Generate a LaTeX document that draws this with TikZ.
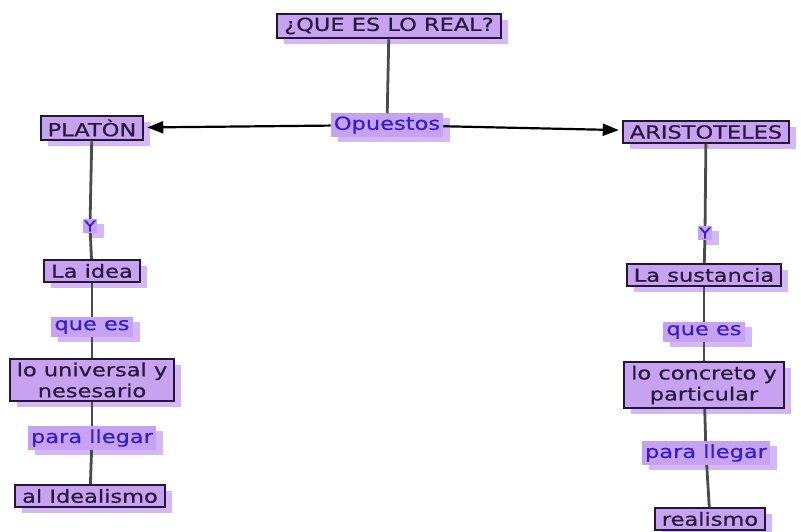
\documentclass[tikz,border=0pt]{standalone}
\usepackage{fontspec}
\setmainfont[FakeStretch=1.25,FakeBold=0.7]{DejaVu Sans}
\usetikzlibrary{shadows,arrows.meta}
\definecolor{boxfill}{RGB}{198,162,240}
\definecolor{shadowc}{RGB}{212,184,246}
\definecolor{linktext}{RGB}{52,30,205}
\definecolor{concepttext}{RGB}{40,24,60}
\definecolor{linec}{RGB}{75,75,75}
\tikzset{
  concept/.style={draw=concepttext!90!black, line width=2pt, fill=boxfill, text=concepttext,
    font=\fontsize{18}{21}\selectfont, inner xsep=7pt, inner ysep=4pt, align=center,
    general shadow={fill=shadowc, shadow xshift=7pt, shadow yshift=-6pt}},
  linkph/.style={fill=boxfill, text=linktext, font=\fontsize{18}{20}\selectfont,
    inner xsep=3pt, inner ysep=3pt,
    general shadow={fill=shadowc, shadow xshift=7pt, shadow yshift=-5pt}},
  conn/.style={draw=linec, line width=2.8pt},
  arr/.style={draw=black, line width=2.2pt, -{Triangle[length=16pt,width=12pt]}, shorten >=3pt}
}
\begin{document}
\begin{tikzpicture}[x=1pt,y=-1pt]
\useasboundingbox (0,0) rectangle (801,531);
% nodes
\node[concept] (top) at (389,26) {¿QUE ES LO REAL?};
\node[linkph] (op) at (387,125) {Opuestos};
\node[concept] (pla) at (92,128) {PLATÒN};
\node[concept] (ari) at (706,132) {ARISTOTELES};
% left column
\node[linkph, font=\fontsize{15}{17}\selectfont, inner sep=1.5pt] (y1) at (90,226) {Y};
\node[concept] (idea) at (92,271) {La idea};
\node[linkph] (q1) at (92,327) {que es};
\node[concept] (univ) at (92,380) {lo universal y\\nesesario};
\node[linkph] (p1) at (92,438) {para llegar};
\node[concept] (ideal) at (90,496) {al Idealismo};
% right column
\node[linkph, font=\fontsize{15}{17}\selectfont, inner sep=1.5pt] (y2) at (705,233) {Y};
\node[concept] (sust) at (704,275) {La sustancia};
\node[linkph] (q2) at (704,332) {que es};
\node[concept] (conc) at (704,385) {lo concreto y\\particular};
\node[linkph] (p2) at (706,453) {para llegar};
\node[concept] (real) at (710,519) {realismo};
% connectors
\draw[conn] (top) -- (op);
\draw[arr] (op) -- (pla);
\draw[arr] (op) -- (ari);
\draw[conn] (pla) -- (y1);
\draw[conn] (y1) -- (idea);
\draw[conn] (idea) -- (q1);
\draw[conn] (q1) -- (univ);
\draw[conn] (univ) -- (p1);
\draw[conn] (p1) -- (ideal);
\draw[conn] (ari) -- (y2);
\draw[conn] (y2) -- (sust);
\draw[conn] (sust) -- (q2);
\draw[conn] (q2) -- (conc);
\draw[conn] (conc) -- (p2);
\draw[conn] (p2) -- (real);
\end{tikzpicture}
\end{document}
